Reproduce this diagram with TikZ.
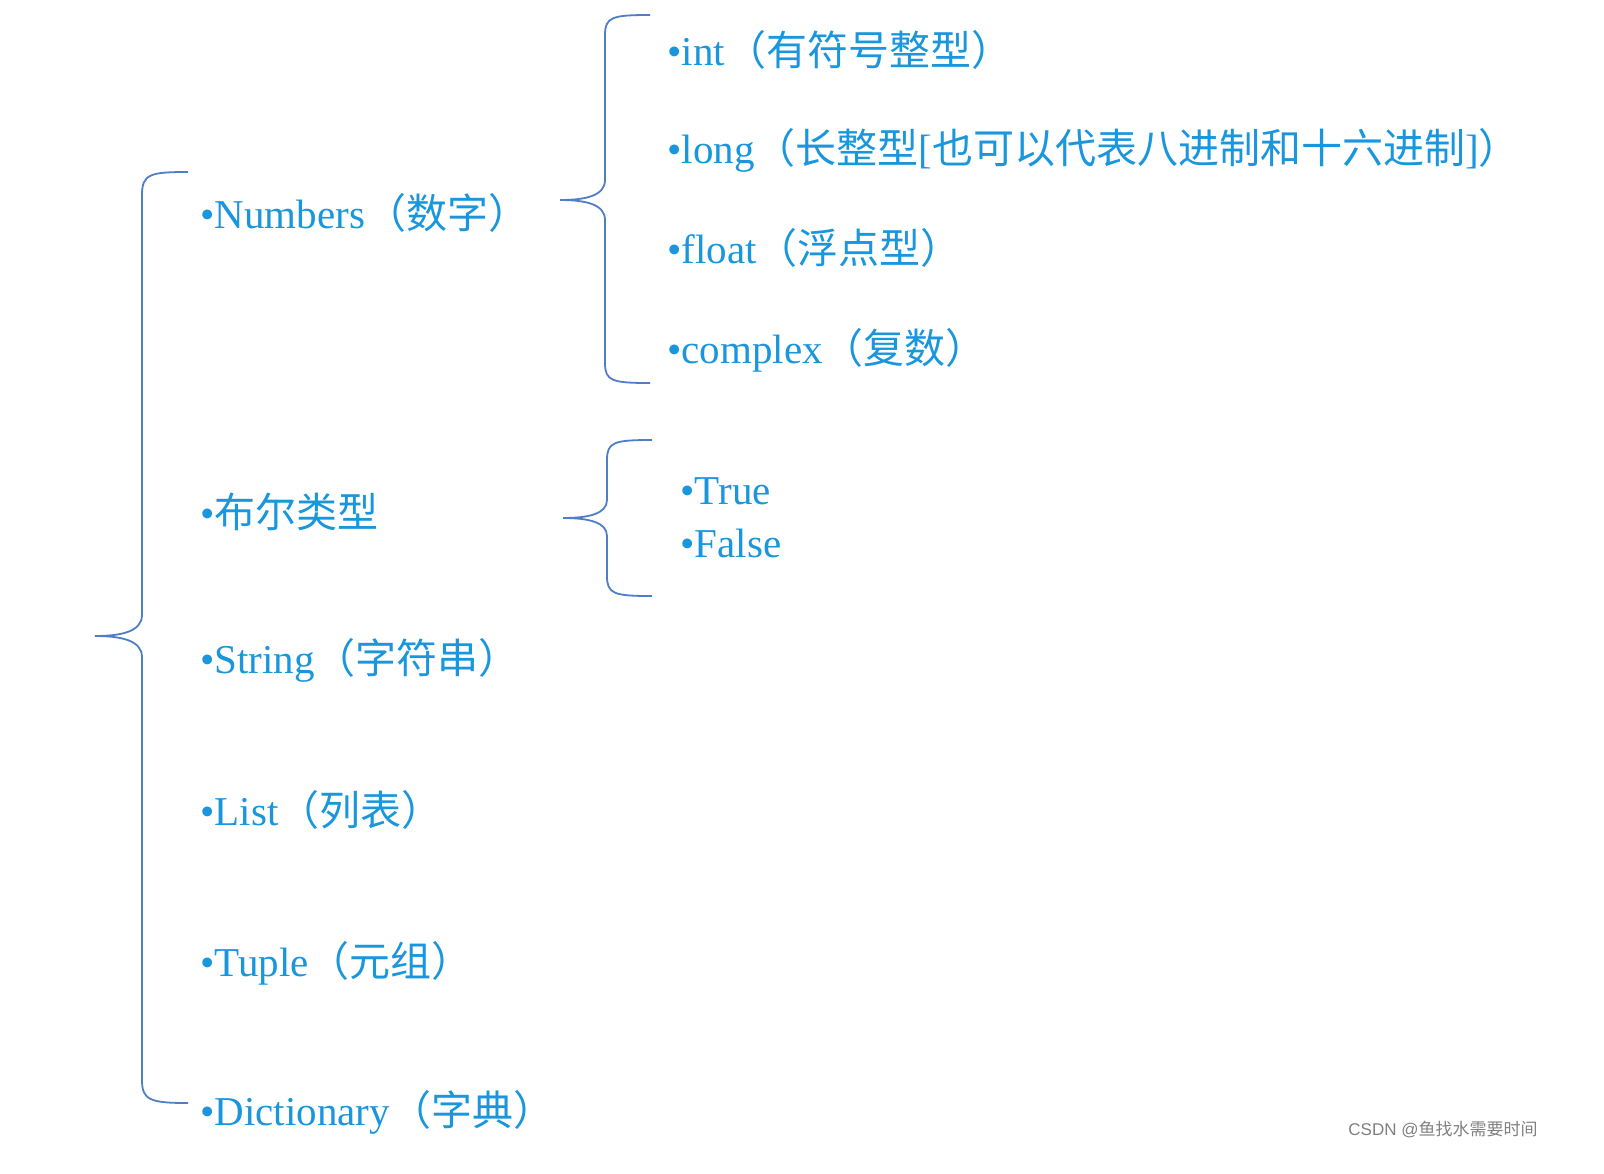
\documentclass[tikz,border=0pt]{standalone}
\usepackage{fontspec}
\setmainfont{Liberation Serif}
\newfontfamily\cjk{Noto Sans CJK SC}
\newfontfamily\wm{Liberation Sans}
\definecolor{txt}{RGB}{25,150,220}
\definecolor{brc}{RGB}{80,125,200}
\newcommand{\C}[1]{{\cjk #1}}
\begin{document}
\begin{tikzpicture}[x=0.5pt,y=-0.5pt,
  item/.style={anchor=west,inner sep=0pt,text=txt,font=\fontsize{20.5}{24}\selectfont},
  brace/.style={draw=brc,line width=0.9pt}]
\useasboundingbox (0,0) rectangle (1604,1173);
% big brace
\draw[brace] (188,172) .. controls (150,172) and (142,174) .. (142,195) -- (142,615) .. controls (142,632) and (120,636) .. (95,636) .. controls (120,636) and (142,640) .. (142,657) -- (142,1080) .. controls (142,1100) and (150,1103) .. (188,1103);
% numbers brace
\draw[brace] (650,15) .. controls (612,15) and (605,17) .. (605,35) -- (605,180) .. controls (605,196) and (585,200) .. (560,200) .. controls (585,200) and (605,204) .. (605,220) -- (605,363) .. controls (605,381) and (612,383) .. (650,383);
% bool brace
\draw[brace] (652,440) .. controls (614,440) and (607,442) .. (607,460) -- (607,500) .. controls (607,514) and (588,518) .. (563,518) .. controls (588,518) and (607,522) .. (607,536) -- (607,576) .. controls (607,594) and (614,596) .. (652,596);
\node[item] (num) at (200,213) {•Numbers\C{（数字）}};
\node[item] (bool) at (200,512) {•\C{布尔类型}};
\node[item] (str) at (200,660) {•String\C{（字符串）}};
\node[item] (lst) at (200,810) {•List\C{（列表）}};
\node[item] (tup) at (200,963) {•Tuple\C{（元组）}};
\node[item] (dic) at (200,1112) {•Dictionary\C{（字典）}};
\node[item] (int) at (667,50) {•int\C{（有符号整型）}};
\node[item] (lng) at (667,150) {•long\C{（长整型}[\C{也可以代表八进制和十六进制}]\C{）}};
\node[item] (flt) at (667,248) {•float\C{（浮点型）}};
\node[item] (cpx) at (667,350) {•complex\C{（复数）}};
\node[item] (tru) at (680,491) {•True};
\node[item] (fls) at (680,543) {•False};
\node[anchor=west,inner sep=0pt,text=gray,font=\wm\fontsize{8.5}{10}\selectfont] (wm) at (1348,1129) {CSDN @\C{鱼找水需要时间}};
\end{tikzpicture}
\end{document}
